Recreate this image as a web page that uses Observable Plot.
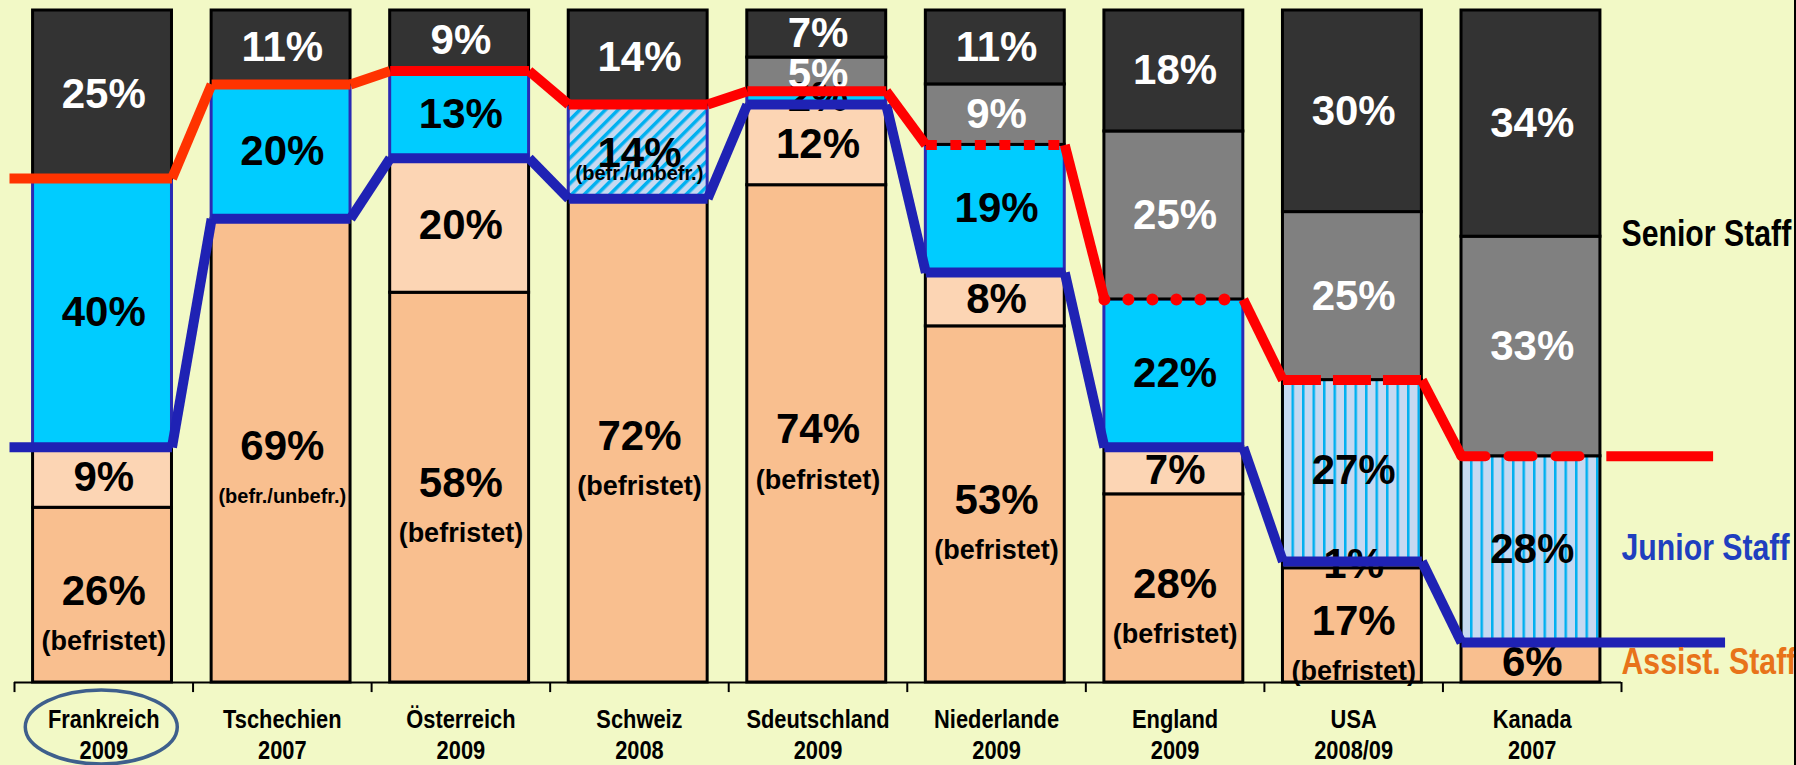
<!DOCTYPE html>
<html><head><meta charset="utf-8">
<script src="https://cdn.jsdelivr.net/npm/d3@7"></script>
<script src="https://cdn.jsdelivr.net/npm/@observablehq/plot@0.6"></script>
<style>
html,body{margin:0;padding:0;background:#F2F9C6;}
#chart{width:1796px;height:765px;overflow:hidden;}
</style></head><body><div id="chart"></div>
<script>
// ---- data ----
const countries = ["Frankreich","Tschechien","Österreich","Schweiz","Sdeutschland","Niederlande","England","USA","Kanada"];
const years = ["2009","2007","2009","2008","2009","2009","2009","2008/09","2007"];
const assistFixed = [26,69,58,72,74,53,28,17,6];
const assistOther = [9,0,20,0,12,8,7,1,0];
const juniorSolid = [40,20,13,0,2,19,22,0,0];
const juniorDiag  = [0,0,0,14,0,0,0,0,0];
const juniorVert  = [0,0,0,0,0,0,0,27,28];
const seniorLower = [0,0,0,0,5,9,25,25,33];
const seniorUpper = [25,11,9,14,7,11,18,30,34];
const assistNotes = ["(befristet)","(befr./unbefr.)","(befristet)","(befristet)","(befristet)","(befristet)","(befristet)","(befristet)",""];
const juniorNotes = ["","","","(befr./unbefr.)","","","","",""];
const staffLabels = ["Senior Staff","Junior Staff","Assist. Staff"];

// ---- series styling ----
const series = [
  {key:"assistFixed", values:assistFixed, notes:assistNotes, fill:"#F9BF8F", stroke:"#000", text:"#000", noteKind:"big"},
  {key:"assistOther", values:assistOther, fill:"#FCD5B4", stroke:"#000", text:"#000"},
  {key:"juniorSolid", values:juniorSolid, fill:"#00CCFF", stroke:"#2A2AB4", text:"#000"},
  {key:"juniorDiag", values:juniorDiag, notes:juniorNotes, fill:"url(#hatchDiag)", stroke:"#2A2AB4", text:"#000", noteKind:"small"},
  {key:"juniorVert", values:juniorVert, fill:"url(#hatchVert)", stroke:"#000", text:"#000"},
  {key:"seniorLower", values:seniorLower, fill:"#808080", stroke:"#000", text:"#fff"},
  {key:"seniorUpper", values:seniorUpper, fill:"#333333", stroke:"#000", text:"#fff"}
];
const rows = [];
countries.forEach((c, i) => {
  series.forEach(s => {
    const v = s.values[i];
    if (v > 0) rows.push({i, country: c, value: v, fill: s.fill, stroke: s.stroke, textFill: s.text,
      note: s.notes ? s.notes[i] : "", noteKind: s.noteKind || ""});
  });
});

const n = countries.length;
const totals = countries.map((_, i) => series.reduce((a, s) => a + s.values[i], 0));
const juniorLevel = countries.map((_, i) => (assistFixed[i] + assistOther[i]) / totals[i]);
const seniorLevel = countries.map((_, i) => (assistFixed[i] + assistOther[i] + juniorSolid[i] + juniorDiag[i] + juniorVert[i]) / totals[i]);

const BL = 0.104, BR = 0.882;
const left = i => i === 0 ? -0.028 : i + BL;
const right = i => i + BR;
const redStyle = ["solid","solid","solid","solid","solid","square","round","dash","dashRound"];
const redColor = i => i < 2 ? "#FF3300" : "#FF0000";
const redSegs = [], blueSegs = [];
for (let i = 0; i < n; i++) {
  redSegs.push({x1:left(i), x2:right(i), y1:seniorLevel[i], y2:seniorLevel[i], style:redStyle[i], color:redColor(i)});
  blueSegs.push({x1:left(i), x2: i === n-1 ? 9.58 : right(i), y1:juniorLevel[i], y2:juniorLevel[i]});
  if (i < n-1) {
    redSegs.push({x1:right(i), x2:left(i+1), y1:seniorLevel[i], y2:seniorLevel[i+1], style:"solid", color:redColor(i)});
    blueSegs.push({x1:right(i), x2:left(i+1), y1:juniorLevel[i], y2:juniorLevel[i+1]});
  }
}
redSegs.push({x1:8.915, x2:9.513, y1:seniorLevel[n-1], y2:seniorLevel[n-1], style:"solid", color:"#FF0000"});

const stackOpts = {offset: "normalize"};
const font = "'Liberation Sans', Arial, sans-serif";

const link = (data, style, extra) => Plot.link(data, {filter: d => d.style === style, x1:"x1", y1:"y1", x2:"x2", y2:"y2", stroke:"color", strokeWidth:10, ...extra});

const chart = Plot.plot({
  width: 1796, height: 765,
  marginTop: 10, marginBottom: 83, marginLeft: 14, marginRight: 175,
  x: {domain: [0, 9], axis: null},
  y: {domain: [0, 1], axis: null},
  color: {type: "identity"},
  style: {background: "#F2F9C6", fontFamily: font, overflow: "hidden"},
  marks: [
    Plot.rect(rows, Plot.stackY(stackOpts, {x1: d => d.i + BL, x2: d => d.i + BR, y: "value", fill: "fill", stroke: "stroke", strokeWidth: 3})),
    // percent labels
    Plot.text(rows, Plot.stackY(stackOpts, {x: d => d.i + 0.5, y: "value", text: d => d.note ? null : d.value + "%", fill: "textFill", fontSize: 42, fontWeight: "bold"})),
    Plot.text(rows, Plot.stackY(stackOpts, {x: d => d.i + 0.5, y: "value", text: d => d.note && d.noteKind === "big" ? d.value + "%" : null, fill: "textFill", fontSize: 42, fontWeight: "bold", dy: -4})),
    Plot.text(rows, Plot.stackY(stackOpts, {x: d => d.i + 0.5, y: "value", text: d => d.note && d.noteKind === "big" ? d.note : null, fill: "textFill", fontSize: d => d.note.startsWith("(befr.") ? 20 : 27, fontWeight: "bold", dy: 46})),
    Plot.text(rows, Plot.stackY(stackOpts, {x: d => d.i + 0.5, y: "value", text: d => d.note && d.noteKind === "small" ? d.value + "%" : null, fill: "textFill", fontSize: 42, fontWeight: "bold", dy: 2})),
    Plot.text(rows, Plot.stackY(stackOpts, {x: d => d.i + 0.5, y: "value", text: d => d.note && d.noteKind === "small" ? d.note : null, fill: "textFill", fontSize: 20, fontWeight: "bold", dy: 22})),
    // axis
    Plot.ruleY([0], {x1: 0, x2: 9, stroke: "#000", strokeWidth: 2}),
    Plot.ruleX(d3.range(n + 1), {y1: 0, y2: -0.015, stroke: "#000", strokeWidth: 2}),
    Plot.text(countries, {x: (d, i) => i + 0.5, y: 0, dy: 37, text: d => d, fontSize: 26, fontWeight: "bold", fill: "#000"}),
    Plot.text(years, {x: (d, i) => i + 0.5, y: 0, dy: 68, text: d => d, fontSize: 26, fontWeight: "bold", fill: "#000"}),
    // junior (blue) line
    Plot.link(blueSegs, {x1:"x1", y1:"y1", x2:"x2", y2:"y2", stroke:"#1F22B4", strokeWidth:10}),
    // senior (red) line
    link(redSegs, "solid"),
    link(redSegs, "square", {strokeDasharray: "11 13.5"}),
    link(redSegs, "round", {strokeDasharray: "0 24", strokeLinecap: "round", strokeWidth: 12}),
    link(redSegs, "dash", {strokeDasharray: "38 12"}),
    link(redSegs, "dashRound", {strokeDasharray: "24 23", strokeLinecap: "round"}),
    // staff labels
    Plot.text(staffLabels, {x: 9, y: [0.667, 0.2, 0.03], text: d => d, textAnchor: "start", fontSize: 36, fontWeight: "bold", fill: ["#000000", "#1F3FBF", "#E8731A"]})
  ]
});

// hatch patterns
const defs = d3.select(chart).insert("defs", ":first-child");
const pv = defs.append("pattern").attr("id", "hatchVert").attr("patternUnits", "userSpaceOnUse").attr("width", 10.5).attr("height", 10);
pv.append("rect").attr("width", 10.5).attr("height", 10).attr("fill", "#C6D9F1");
pv.append("rect").attr("width", 2.5).attr("height", 10).attr("fill", "#00B0F0");
const pd = defs.append("pattern").attr("id", "hatchDiag").attr("patternUnits", "userSpaceOnUse").attr("width", 9).attr("height", 9).attr("patternTransform", "rotate(45)");
pd.append("rect").attr("width", 9).attr("height", 9).attr("fill", "#C6D9F1");
pd.append("rect").attr("width", 3.5).attr("height", 9).attr("fill", "#00B0F0");

// highlight ellipse around first category label
const xs = chart.scale("x"), ys = chart.scale("y");
d3.select(chart).append("ellipse")
  .attr("cx", xs.apply(0.5) - 2).attr("cy", ys.apply(0) + 45)
  .attr("rx", 76).attr("ry", 37)
  .attr("fill", "none").attr("stroke", "#3E5F8C").attr("stroke-width", 3.5);
// slide frame edge on the right
d3.select(chart).append("line").attr("x1", 1795).attr("x2", 1795).attr("y1", 0).attr("y2", 765)
  .attr("stroke", "#000").attr("stroke-width", 2);

document.getElementById("chart").appendChild(chart);

// condensed look for axis and staff labels
const narrowTexts = new Set([...countries, ...years, ...staffLabels]);
d3.select(chart).selectAll("text").filter(function () { return narrowTexts.has(this.textContent); }).each(function () {
  const L = this.getComputedTextLength();
  this.setAttribute("textLength", (L * 0.84).toFixed(1));
  this.setAttribute("lengthAdjust", "spacingAndGlyphs");
});
</script></body></html>
